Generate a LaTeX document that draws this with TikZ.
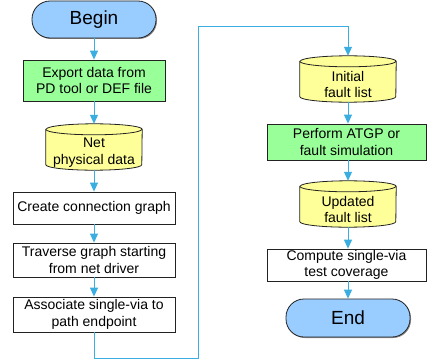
\documentclass[tikz,border=0pt]{standalone}
\usepackage{fontspec}
\setmainfont{Liberation Sans}
\usetikzlibrary{arrows.meta,shadows,backgrounds}
\definecolor{wire}{HTML}{3AAEE0}
\definecolor{termblue}{HTML}{99CCFF}
\definecolor{boxgreen}{HTML}{99FF99}
\definecolor{cylyellow}{HTML}{FFFF99}
\definecolor{edge}{HTML}{222222}
\newcommand\cylbody[1]{%
  \begin{scope}[on background layer]
    \filldraw[cylst] ([yshift=5.5pt]#1.north west) -- ([yshift=5.5pt]#1.south west)
      arc[start angle=180,end angle=360,x radius=48pt,y radius=5.5pt]
      -- ([yshift=5.5pt]#1.north east)
      arc[start angle=0,end angle=180,x radius=48pt,y radius=5.5pt] -- cycle;
    \draw[cylst] ([yshift=5.5pt]#1.north west)
      arc[start angle=180,end angle=360,x radius=48pt,y radius=5.5pt];
  \end{scope}}
\begin{document}
\begin{tikzpicture}[x=1pt,y=-1pt,
  txt/.style={font=\fontsize{14}{16.5}\selectfont, align=center, inner sep=0pt},
  box/.style={txt, draw=edge, line width=0.8pt, fill=white,
    drop shadow={shadow xshift=1pt, shadow yshift=-1pt, fill=black!45, opacity=1}},
  term/.style={box, fill=termblue, rounded corners=18pt, minimum width=124pt,
    font=\fontsize{19}{22}\selectfont},
  cyl/.style={txt, minimum width=96pt, minimum height=35pt},
  cylst/.style={draw=edge, line width=0.8pt, fill=cylyellow},
  arr/.style={draw=wire, line width=1pt, -{Triangle[length=9pt,width=8pt]}}]
\useasboundingbox (0,0) rectangle (427,361);
\node[term, minimum height=37pt] (begin) at (94,19.5) {Begin};
\node[box, fill=boxgreen, minimum width=142pt, minimum height=41pt] (export) at (94,80.5) {Export data from\\PD tool or DEF file};
\node[cyl] (net) at (94,152.5) {Net\\physical data};
\node[box, minimum width=162pt, minimum height=32pt] (create) at (94,208) {Create connection graph};
\node[box, minimum width=162pt, minimum height=34pt] (trav) at (94,260) {Traverse graph starting\\from net driver};
\node[box, minimum width=162pt, minimum height=35pt] (assoc) at (94,314.5) {Associate single-via to\\path endpoint};
\node[cyl] (init) at (348,84.5) {Initial\\fault list};
\node[box, fill=boxgreen, minimum width=159pt, minimum height=36pt] (atpg) at (346.5,142) {Perform ATGP or\\fault simulation};
\node[cyl] (upd) at (348,209.5) {Updated\\fault list};
\node[box, minimum width=159pt, minimum height=32pt] (cov) at (346.5,265) {Compute single-via\\test coverage};
\node[term, minimum height=38pt] (end) at (348,318) {End};
\cylbody{net}
\cylbody{init}
\cylbody{upd}
\coordinate (w1) at (198,358);
\coordinate (w2) at (198,27);
\draw[arr] (begin.south) -- (export.north);
\draw[arr] (export.south) -- ([yshift=11pt]net.north);
\draw[arr] (net.south) -- (create.north);
\draw[arr] (create.south) -- (trav.north);
\draw[arr] (trav.south) -- (assoc.north);
\draw[arr] (assoc.south) |- (w1) -- (w2) -| ([yshift=11pt]init.north);
\draw[arr] (init.south) -- (init.south |- atpg.north);
\draw[arr] (init.south |- atpg.south) -- ([yshift=11pt]upd.north);
\draw[arr] (upd.south) -- (upd.south |- cov.north);
\draw[arr] (upd.south |- cov.south) -- (end.north);
\end{tikzpicture}
\end{document}
